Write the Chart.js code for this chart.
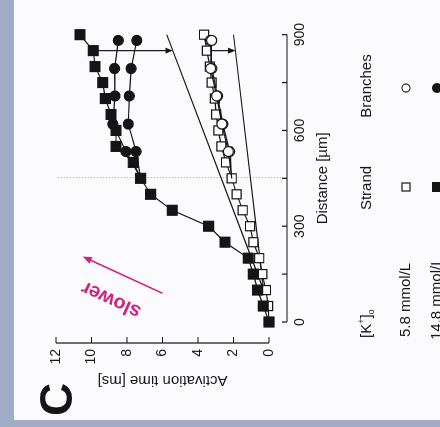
<!DOCTYPE html>
<html>
<head>
<meta charset="utf-8">
<script src="https://cdn.jsdelivr.net/npm/chart.js"></script>
<style>
  html, body { margin: 0; padding: 0; }
  body { width: 440px; height: 427px; background: #a1acc6; position: relative; overflow: hidden; }
  #panel { position: absolute; left: 14px; top: 0; width: 426px; height: 420px; background: #fbfbfd; }
  /* the figure is printed turned a quarter turn to the left */
  #wrap { position: absolute; left: 0; top: 0; width: 427px; height: 440px;
          transform-origin: 0 0; transform: translateY(427px) rotate(-90deg); }
</style>
</head>
<body>
<div id="panel"></div>
<div id="wrap"><canvas id="myChart" width="427" height="440"></canvas></div>
<script>
// data (distance in µm, activation time in ms)
const strandDist = [0, 50, 100, 150, 200, 250, 300, 350, 400, 450, 500, 550, 600, 650, 700, 750, 800, 850, 900];
const strandLow = [0, 0.05, 0.17, 0.38, 0.55, 0.88, 1.07, 1.48, 1.82, 2.1, 2.42, 2.68, 2.85, 2.98, 3.05, 3.23, 3.33, 3.5, 3.66];
const strandHigh = [0, 0.32, 0.64, 0.88, 1.17, 2.48, 3.4, 5.45, 6.67, 7.23, 7.65, 8.62, 8.62, 8.9, 9.22, 9.37, 9.8, 9.9, 10.65];

// branches leave the strand at 450 µm
const branchDist = [450, 534, 620, 708, 794, 882];
const branchLowA = [2.1, 2.29, 2.66, 2.95, 3.29, 3.23];
const branchLowB = [2.1, 2.22, 2.6, 2.9, 3.22, 3.3];
const branchHighA = [7.23, 8.06, 8.8, 8.68, 8.7, 8.49];
const branchHighB = [7.23, 7.49, 7.93, 7.87, 7.77, 7.45];

// straight reference lines
const lineDist = [100, 900];
const lineFast = [0.3, 2.0];
const lineSlow = [0.3, 5.76];

const arrowDist = 850;
const markDist = 450;
const distTicks = [0, 150, 300, 450, 600, 750, 900];
const timeTicks = [0, 2, 4, 6, 8, 10, 12];
const slowerFrom = [90, 6.0];
const slowerTo = [205, 10.5];

const FONT = "'Liberation Sans', Arial, sans-serif";
const INK = "#151515";
const PINK = "#d0237e";

Chart.defaults.font.family = FONT;
Chart.defaults.color = INK;

const pts = (xs, ys) => xs.map((d, i) => ({ x: d, y: ys[i] }));
const lineAt = (ys, d) => ys[0] + (ys[1] - ys[0]) * (d - lineDist[0]) / (lineDist[1] - lineDist[0]);

function arrow(ctx, x0, y0, x1, y1, color, head) {
  const ang = Math.atan2(y1 - y0, x1 - x0);
  ctx.strokeStyle = color;
  ctx.fillStyle = color;
  ctx.beginPath();
  ctx.moveTo(x0, y0);
  ctx.lineTo(x1 - Math.cos(ang) * head * 0.8, y1 - Math.sin(ang) * head * 0.8);
  ctx.stroke();
  ctx.beginPath();
  ctx.moveTo(x1, y1);
  ctx.lineTo(x1 - head * Math.cos(ang - 0.38), y1 - head * Math.sin(ang - 0.38));
  ctx.lineTo(x1 - head * Math.cos(ang + 0.38), y1 - head * Math.sin(ang + 0.38));
  ctx.closePath();
  ctx.fill();
}

const decor = {
  id: "decor",
  beforeDatasetsDraw(chart) {
    const { ctx, chartArea: a, scales: { x, y } } = chart;
    ctx.save();
    ctx.strokeStyle = "#9c9c9c";
    ctx.lineWidth = 1;
    ctx.setLineDash([1, 2]);
    const px = Math.round(x.getPixelForValue(markDist)) + 0.5;
    ctx.beginPath();
    ctx.moveTo(px, y.getPixelForValue(11.9));
    ctx.lineTo(px, a.bottom + 14);
    ctx.stroke();
    ctx.restore();
  },
  afterDraw(chart) {
    const { ctx, chartArea: a, scales: { x, y } } = chart;
    ctx.save();

    // detached axes with inward ticks
    ctx.strokeStyle = INK;
    ctx.lineWidth = 1.2;
    const ax = a.bottom + 18;
    const ay = a.left - 21;
    ctx.beginPath();
    ctx.moveTo(x.getPixelForValue(0), ax);
    ctx.lineTo(x.getPixelForValue(900), ax);
    distTicks.forEach((v) => {
      const p = x.getPixelForValue(v);
      ctx.moveTo(p, ax);
      ctx.lineTo(p, ax - 5);
    });
    ctx.moveTo(ay, y.getPixelForValue(0));
    ctx.lineTo(ay, y.getPixelForValue(12));
    timeTicks.forEach((v) => {
      const p = y.getPixelForValue(v);
      ctx.moveTo(ay, p);
      ctx.lineTo(ay + 6, p);
    });
    ctx.stroke();

    // arrows from the curves down to the reference lines
    ctx.lineWidth = 1.2;
    const ap = x.getPixelForValue(arrowDist);
    const si = strandDist.indexOf(arrowDist);
    arrow(ctx, ap, y.getPixelForValue(strandHigh[si]) + 5, ap, y.getPixelForValue(lineAt(lineSlow, arrowDist)), INK, 8);
    arrow(ctx, ap, y.getPixelForValue(strandLow[si]) + 5, ap, y.getPixelForValue(lineAt(lineFast, arrowDist)), INK, 8);

    // "slower" arrow
    const sx0 = x.getPixelForValue(slowerFrom[0]), sy0 = y.getPixelForValue(slowerFrom[1]);
    const sx1 = x.getPixelForValue(slowerTo[0]), sy1 = y.getPixelForValue(slowerTo[1]);
    ctx.lineWidth = 1.6;
    arrow(ctx, sx0, sy0, sx1, sy1, PINK, 10);
    const ang = Math.atan2(sy1 - sy0, sx1 - sx0);
    ctx.save();
    ctx.translate((sx0 + sx1) / 2 + 27 * Math.sin(ang), (sy0 + sy1) / 2 - 27 * Math.cos(ang));
    ctx.rotate(ang);
    ctx.fillStyle = PINK;
    ctx.font = "bold 20px " + FONT;
    ctx.textAlign = "center";
    ctx.textBaseline = "middle";
    ctx.fillText("slower", 0, 0);
    ctx.restore();

    // panel letter
    ctx.fillStyle = INK;
    ctx.font = "bold 46px " + FONT;
    ctx.textAlign = "left";
    ctx.textBaseline = "alphabetic";
    ctx.fillText("C", 11, 72);

    // legend table
    ctx.font = "15px " + FONT;
    ctx.textBaseline = "middle";
    ctx.fillText("[K", 89, 367);
    const w = ctx.measureText("[K").width;
    ctx.font = "9px " + FONT;
    ctx.fillText("+", 89 + w, 362);
    const wp = ctx.measureText("+").width;
    ctx.font = "15px " + FONT;
    ctx.fillText("]", 89 + w + wp, 367);
    const wb = ctx.measureText("]").width;
    ctx.font = "9px " + FONT;
    ctx.fillText("o", 89 + w + wp + wb, 372);
    ctx.font = "15px " + FONT;
    ctx.textAlign = "center";
    ctx.fillText("Strand", 239, 367);
    ctx.fillText("Branches", 341, 367);
    ctx.textAlign = "left";
    ctx.fillText("5.8 mmol/L", 90, 406);
    ctx.fillText("14.8 mmol/L", 87, 437);

    ctx.lineWidth = 1.2;
    ctx.strokeStyle = INK;
    ctx.fillStyle = "#fff";
    ctx.fillRect(236, 402, 8, 8);
    ctx.strokeRect(236, 402, 8, 8);
    ctx.beginPath();
    ctx.arc(339, 406, 4, 0, Math.PI * 2);
    ctx.fill();
    ctx.stroke();
    ctx.fillStyle = INK;
    ctx.fillRect(235, 432, 10, 10);
    ctx.beginPath();
    ctx.arc(339, 437, 5, 0, Math.PI * 2);
    ctx.fill();

    ctx.restore();
  },
};

const base = { showLine: true, borderColor: INK, borderWidth: 1.2, pointBorderColor: INK, pointBorderWidth: 1.2, clip: false };
const branchRadius = branchDist.map((d, i) => (i === 0 ? 0 : 5));

const data = {
  datasets: [
    { ...base, label: "14.8 strand", data: pts(strandDist, strandHigh), pointStyle: "rect", pointRadius: 7, pointBackgroundColor: INK, order: 0 },
    { ...base, label: "14.8 branch a", data: pts(branchDist, branchHighA), pointStyle: "circle", pointRadius: branchRadius, pointBackgroundColor: INK, order: 1 },
    { ...base, label: "14.8 branch b", data: pts(branchDist, branchHighB), pointStyle: "circle", pointRadius: branchRadius, pointBackgroundColor: INK, order: 1 },
    { ...base, label: "5.8 branch a", data: pts(branchDist, branchLowA), pointStyle: "circle", pointRadius: branchRadius, pointBackgroundColor: "#fff", order: 2 },
    { ...base, label: "5.8 branch b", data: pts(branchDist, branchLowB), pointStyle: "circle", pointRadius: branchRadius, pointBackgroundColor: "#fff", order: 2 },
    { ...base, label: "5.8 strand", data: pts(strandDist, strandLow), pointStyle: "rect", pointRadius: 6.4, pointBackgroundColor: "#fff", order: 3 },
    { ...base, label: "fast", data: pts(lineDist, lineFast), pointRadius: 0, order: 4 },
    { ...base, label: "slow", data: pts(lineDist, lineSlow), pointRadius: 0, order: 4 },
  ],
};

const config = {
  type: "scatter",
  data,
  options: {
    responsive: false,
    animation: false,
    devicePixelRatio: 1,
    layout: { padding: { left: 0, right: 25, top: 56, bottom: 107 } },
    scales: {
      x: {
        type: "linear",
        min: 0,
        max: 900,
        border: { display: false },
        grid: { display: false, drawTicks: false },
        ticks: { stepSize: 300, padding: 23, maxRotation: 0, font: { size: 14 } },
        title: { display: true, text: "Distance [µm]", font: { size: 15 }, padding: { top: 0, bottom: 1 } },
        afterFit: (s) => { s.height = 64; },
      },
      y: {
        type: "linear",
        min: 0,
        max: 12,
        border: { display: false },
        grid: { display: false, drawTicks: false },
        ticks: { stepSize: 2, padding: 27, font: { size: 14 } },
        title: { display: true, text: "Activation time [ms]", font: { size: 15 }, padding: { top: 38, bottom: 0 } },
        afterFit: (s) => { s.width = 105; },
      },
    },
    plugins: {
      legend: { display: false },
      tooltip: { enabled: false },
    },
  },
  plugins: [decor],
};

const myChart = new Chart(document.getElementById("myChart"), config);
</script>
</body>
</html>
